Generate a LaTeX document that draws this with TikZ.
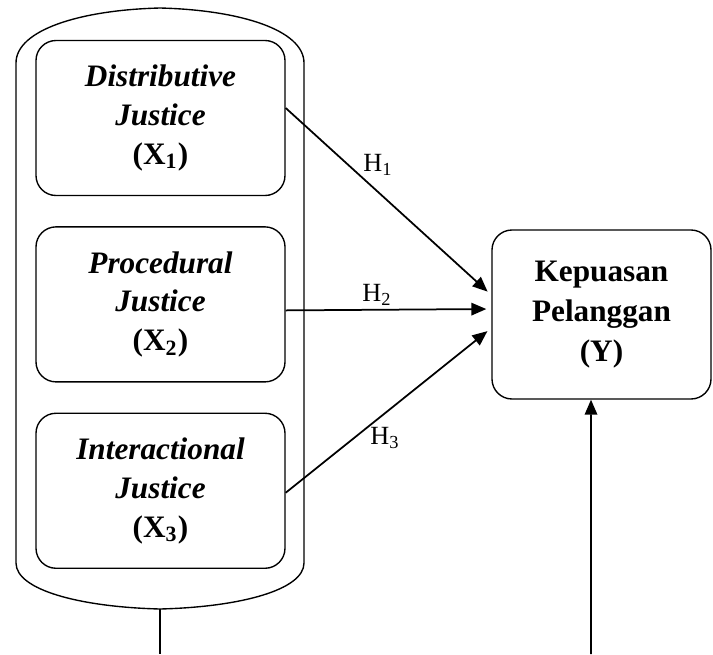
\documentclass[tikz,border=0pt]{standalone}
\usepackage{fontspec}
\setmainfont{Liberation Serif}
\usetikzlibrary{positioning, arrows.meta}

\begin{document}
\begin{tikzpicture}[
        x=0.4pt, y=-0.4pt,
        node distance=12pt,
        font=\fontsize{12.5}{15.5}\selectfont,
        xbox/.style={rectangle, draw, line width=0.55pt, rounded corners=8pt, align=center, font=\fontsize{12.5}{15.5}\selectfont\bfseries, minimum width=99.6pt, minimum height=62pt},
        ybox/.style={xbox, font=\fontsize{12.5}{16}\selectfont\bfseries, minimum width=87.6pt, minimum height=67.6pt},
        arrow/.style={-{Triangle[length=6pt, width=5pt]}, line width=0.7pt},
        hlabel/.style={font=\fontsize{10.5}{12}\selectfont}
    ]
    \useasboundingbox (0,0) rectangle (713,654);

    % Outer frame
    \draw [line width=0.55pt] (16,563) -- (16,63) .. controls (16,30) and (80,10) .. (160,8)
        .. controls (240,10) and (304,30) .. (304,63) -- (304,563)
        .. controls (304,590) and (240,607) .. (160,609)
        .. controls (80,607) and (16,590) .. (16,563) -- cycle;
    \coordinate (framebot) at (160,609);

    % Nodes
    \node (dj) [xbox] at (160.5,118) {\textit{Distributive}\\\textit{Justice}\\(X\textsubscript{1})};
    \node (pj) [xbox, below=of dj] {\textit{Procedural}\\\textit{Justice}\\(X\textsubscript{2})};
    \node (ij) [xbox, below=of pj] {\textit{Interactional}\\\textit{Justice}\\(X\textsubscript{3})};

    \node (kp) [ybox] at (601.5,314.5) {Kepuasan\\Pelanggan\\(Y)};

    \coordinate (leftend) at (160,654);
    \coordinate (rightend) at (591,654);

    % Labels
    \node (h1) [hlabel] at (378,165) {H\textsubscript{1}};
    \node (h2) [hlabel] at (377,295) {H\textsubscript{2}};
    \node (h3) [hlabel] at (385,438) {H\textsubscript{3}};

    % Arrows
    \draw [arrow, shorten >=2pt] ([yshift=4pt]dj.east) -- ([yshift=7.8pt]kp.west);
    \draw [arrow, shorten >=2pt] ([yshift=-2.4pt]pj.east) -- ([yshift=2.2pt]kp.west);
    \draw [arrow, shorten >=2pt] ([yshift=-0.8pt]ij.east) -- ([yshift=-5.4pt]kp.west);

    \draw [arrow] (rightend) -- ([xshift=-4.2pt]kp.south);
    \draw [line width=0.6pt] (framebot) -- (leftend);

    \end{tikzpicture}
\end{document}
